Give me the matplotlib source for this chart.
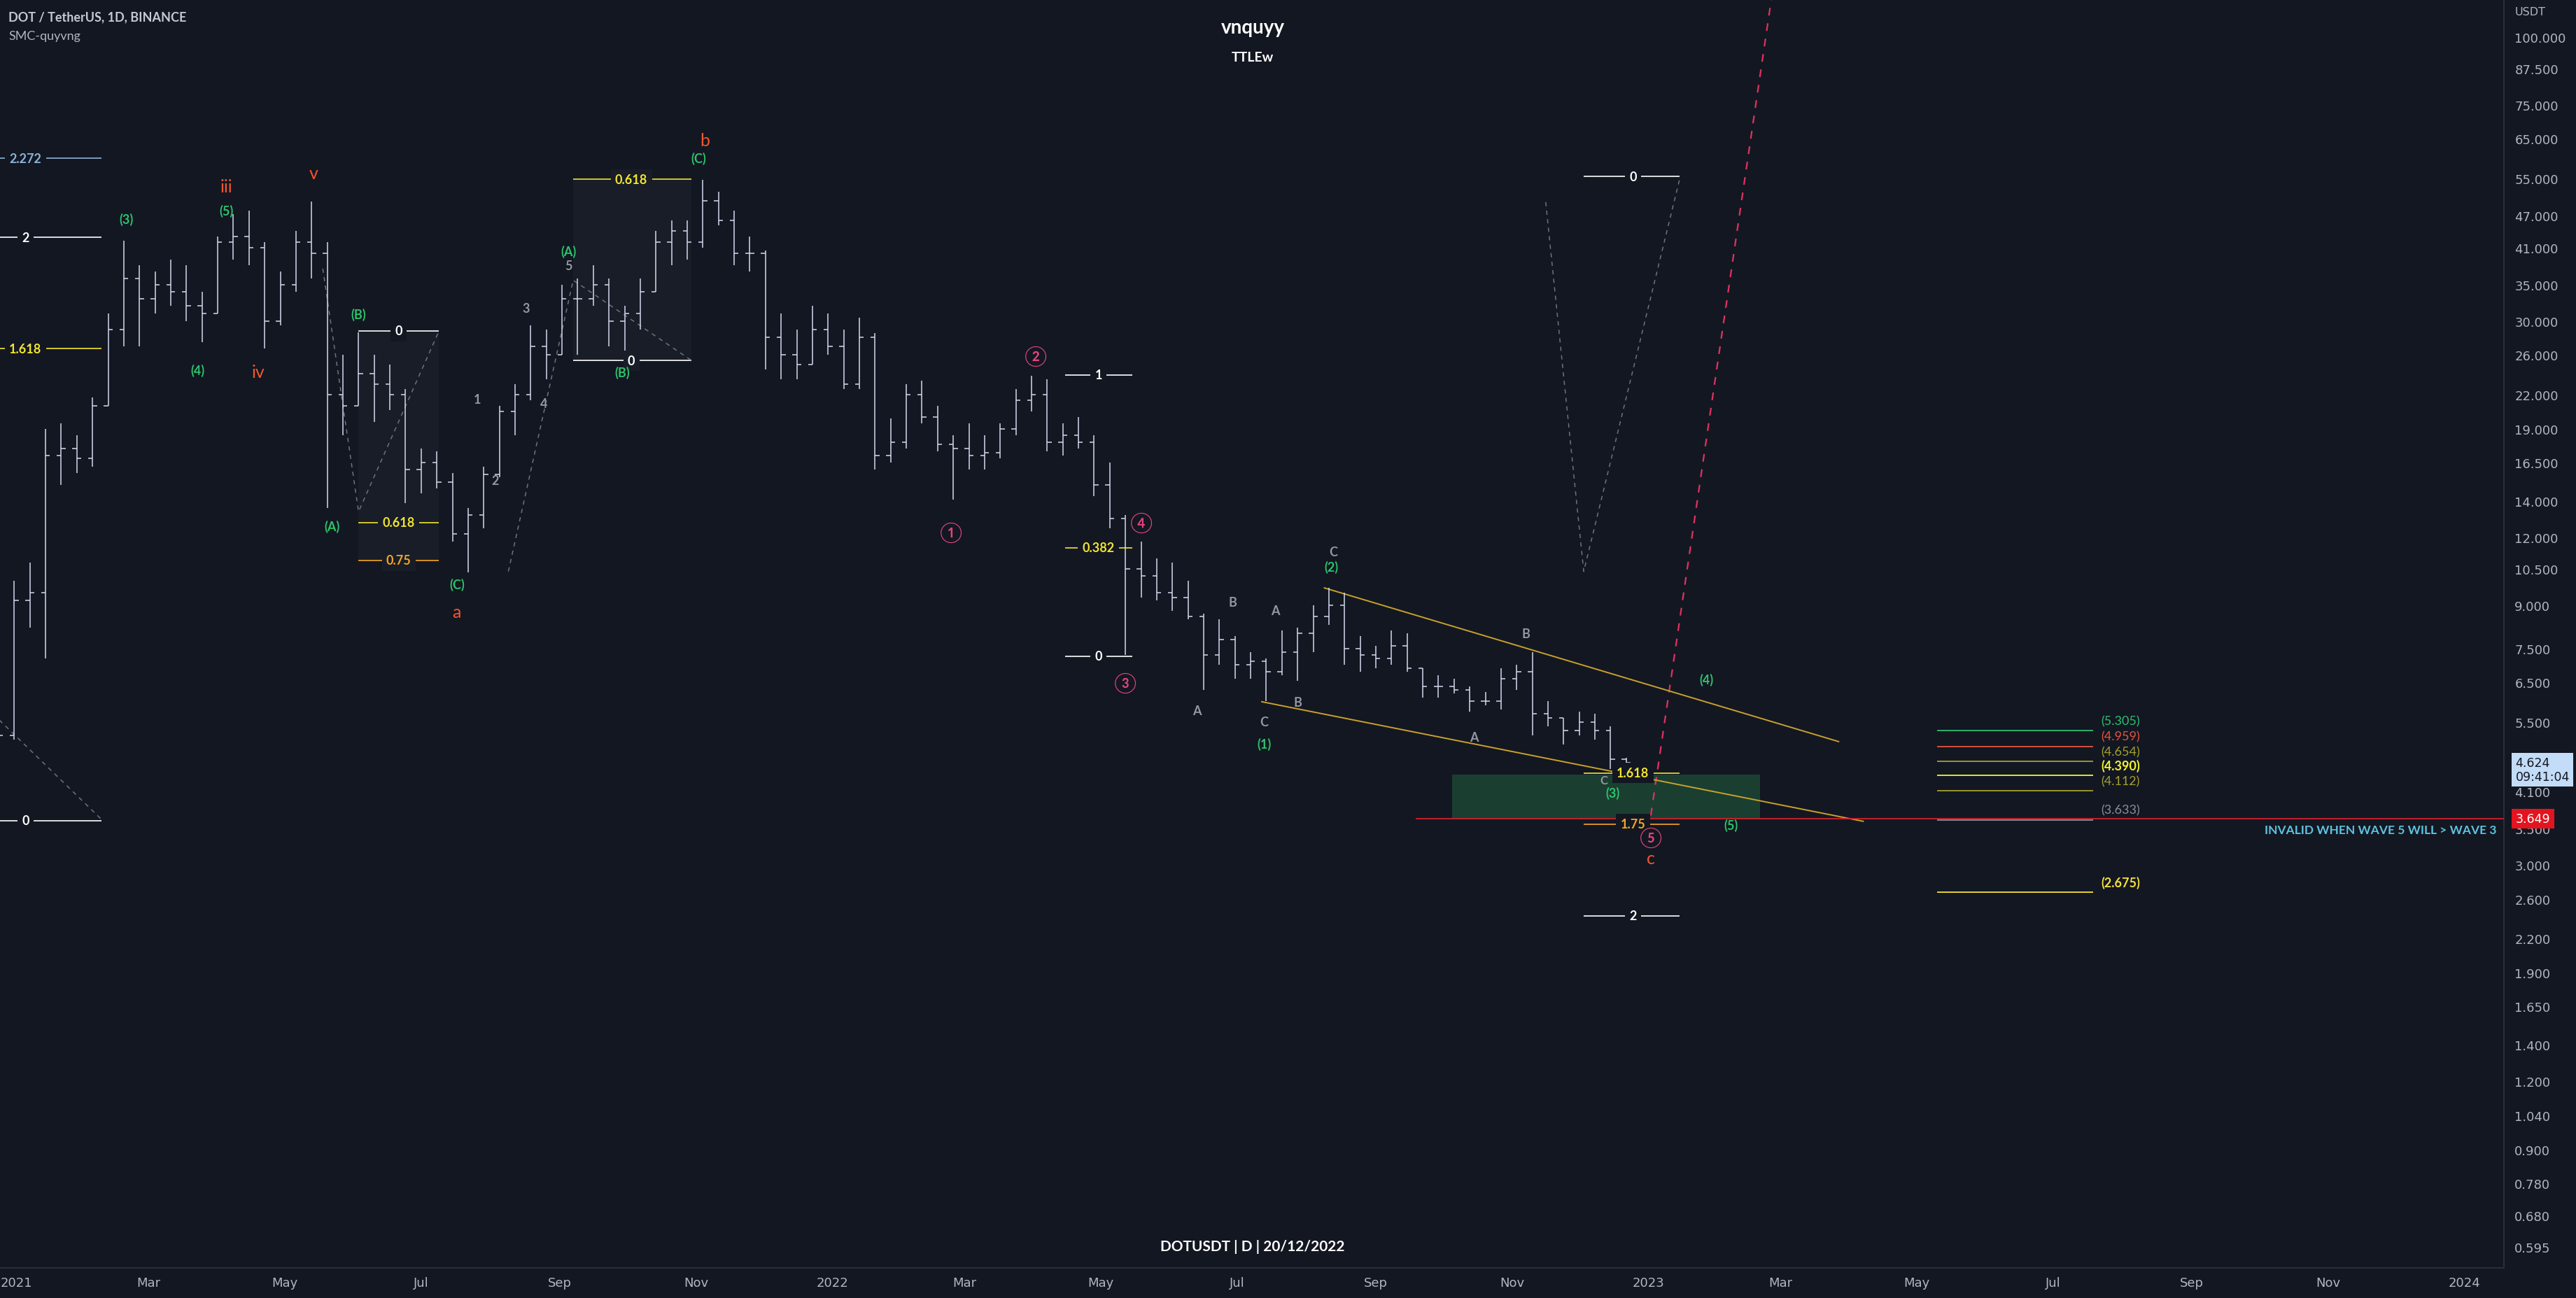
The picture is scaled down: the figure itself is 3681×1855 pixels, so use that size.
import pandas as pd
import matplotlib
matplotlib.use('Agg')
import matplotlib.pyplot as plt
import matplotlib.dates as mdates
import matplotlib.transforms as mtransforms
from matplotlib.patches import Rectangle
from matplotlib.ticker import FixedLocator, FuncFormatter, NullLocator

plt.rcParams['font.family'] = ['Lato', 'Noto Sans CJK JP', 'DejaVu Sans']

BG = '#131722'
BAR = '#d3daee'
GREEN = '#2cc46b'
RED = '#f0562e'
PINK = '#e0457b'
GREY = '#9598a1'
YELLOW = '#f2e52e'
ORANGE = '#f5a524'
WHITE = '#ffffff'
AXIS_TXT = '#b2b5be'

# weekly OHLC
week_start = pd.date_range('2020-12-21', periods=105, freq='7D')
opens = [4.8, 5.2, 9.2, 9.5, 17.0, 17.5, 16.8, 21.0, 29.0, 36.0,
         33, 35, 34, 32, 31, 42, 43, 41, 30, 35,
         42, 40, 22, 21, 24, 23, 22, 16, 16.5, 15.2,
         12.2, 13.2, 15.7, 20.5, 22, 27, 26, 33, 33, 35,
         30, 31, 34, 42, 44, 42, 50, 46, 40, 40,
         28, 26, 25, 29, 27, 23, 28, 17, 18, 22,
         20, 17.8, 17.5, 17, 17.2, 19, 21.5, 22, 18, 18.5,
         18, 15, 13, 10.5, 10.2, 9.5, 9.3, 8.6, 7.3, 7.8,
         7.0, 7.1, 6.8, 7.4, 8.0, 8.6, 9.0, 7.5, 7.3, 7.2,
         7.6, 6.9, 6.4, 6.4, 6.3, 6.0, 6.0, 6.6, 6.8, 5.7,
         5.6, 5.3, 5.5, 5.3, 4.7]
highs = [5.4, 10.0, 10.8, 19.0, 19.5, 18.5, 21.7, 31.0, 42.2, 38.0,
         37, 39, 38, 34, 43, 47.2, 48, 42, 37, 44,
         49.8, 42, 26, 28.6, 26, 25, 22.5, 17.5, 17.3, 15.8,
         13.6, 16.2, 21.0, 23, 29.5, 29, 35, 36, 38, 36,
         32, 36, 44, 46, 46, 54.6, 52, 48, 43, 40.5,
         31, 29, 32, 31, 29, 30.5, 28.5, 19.9, 23, 23.3,
         21, 18.5, 19.5, 18.5, 19.5, 22.5, 23.8, 23.5, 19.5, 20,
         18.5, 16.5, 13.2, 11.8, 11, 10.8, 10, 8.7, 8.5, 7.9,
         7.4, 7.2, 8.1, 8.2, 9.0, 9.7, 9.5, 7.9, 7.6, 8.1,
         8.0, 6.9, 6.7, 6.6, 6.4, 6.25, 6.9, 7.0, 7.4, 6.0,
         5.6, 5.75, 5.7, 5.4, 4.72]
lows = [4.6, 5.1, 8.2, 7.2, 15.0, 15.8, 16.2, 21.0, 27.0, 27.0,
        31, 32, 30, 27.5, 31, 39, 38, 26.7, 29.5, 34,
        36, 13.6, 18.5, 21, 19.6, 20.6, 13.9, 14.5, 14.8, 11.8,
        10.35, 12.5, 15.5, 18.5, 21.5, 23.5, 26, 26, 32, 27,
        26, 29, 34, 38, 39, 41, 45, 38, 37, 24.5,
        23.5, 23.5, 25, 26, 22.5, 22.5, 16, 16.5, 17.5, 19.5,
        17.3, 14.1, 16, 16, 16.8, 18.5, 20.5, 17.3, 17, 17.5,
        14.3, 12.5, 7.3, 9.3, 9.2, 8.8, 8.5, 6.3, 7.0, 6.6,
        6.6, 6.0, 6.7, 6.55, 7.4, 8.3, 7.0, 6.8, 6.9, 7.0,
        6.8, 6.1, 6.1, 6.2, 5.75, 5.9, 5.8, 6.3, 5.2, 5.4,
        5.0, 5.2, 5.1, 4.5, 4.58]
closes = [5.2, 9.2, 9.5, 17.0, 17.5, 16.8, 21.0, 29.0, 36.0, 33.0,
          35, 34, 32, 31, 42, 43, 41, 30, 35, 42,
          40, 22, 21, 24, 23, 22, 16, 16.5, 15.2, 12.2,
          13.2, 15.7, 20.5, 22, 27, 26, 33, 33, 35, 30,
          31, 34, 42, 44, 42, 50, 46, 40, 40, 28,
          26, 25, 29, 27, 23, 28, 17, 18, 22, 20,
          17.8, 17.5, 17, 17.2, 19, 21.5, 22, 18, 18.5, 18,
          15, 13, 10.5, 10.2, 9.5, 9.3, 8.6, 7.3, 7.8, 7.0,
          7.1, 6.8, 7.4, 8.0, 8.6, 9.0, 7.5, 7.3, 7.2, 7.6,
          6.9, 6.4, 6.4, 6.3, 6.0, 6.0, 6.6, 6.8, 5.7, 5.6,
          5.3, 5.5, 5.3, 4.7, 4.624]

last_price = 4.624
invalid_price = 3.649

# projected levels on the right
proj_prices = [5.305, 4.959, 4.654, 4.390, 4.112, 3.633, 2.675]
proj_colors = ['#2fbf71', '#e8533a', '#a4a12c', '#f5f52a', '#a4a12c', '#8a8d96', '#f5e03a']
proj_bold = [False, False, False, True, False, False, True]

# price axis ticks
y_ticks = [100, 87.5, 75, 65, 55, 47, 41, 35, 30, 26, 22, 19, 16.5, 14, 12, 10.5,
           9, 7.5, 6.5, 5.5, 4.1, 3.5, 3.0, 2.6, 2.2, 1.9, 1.65, 1.4, 1.2, 1.04,
           0.9, 0.78, 0.68, 0.595]


def d(s):
    return mdates.date2num(pd.Timestamp(s))


W, H = 3681, 1856
fig = plt.figure(figsize=(W / 100, H / 100), dpi=100, facecolor=BG)
ax = fig.add_axes([0, 43 / H, 3578 / W, 1813 / H])
ax.set_facecolor(BG)
ax.set_yscale('log')
ax.set_ylim(0.5447, 117.3)
ax.set_xlim(d('2020-12-24 15:00'), d('2024-01-18 14:00'))

# bars
x = mdates.date2num(week_start + pd.Timedelta(days=3))
ax.vlines(x, lows, highs, color=BAR, lw=1.1, zorder=5)
ax.hlines(opens, x - 2.0, x, color=BAR, lw=1.1, zorder=5)
ax.hlines(closes, x, x + 2.0, color=BAR, lw=1.1, zorder=5)

# shaded fib boxes
SHADE = '#181d27'
ax.add_patch(Rectangle((d('2021-06-03'), 10.9), d('2021-07-09') - d('2021-06-03'), 28.8 - 10.9,
                       fc=SHADE, ec='none', zorder=1))
ax.add_patch(Rectangle((d('2021-09-07'), 25.4), d('2021-10-30') - d('2021-09-07'), 54.7 - 25.4,
                       fc=SHADE, ec='none', zorder=1))
# demand zone
ax.add_patch(Rectangle((d('2022-10-05'), 3.65), d('2023-02-20') - d('2022-10-05'), 4.40 - 3.65,
                       fc='#1a3f31', ec='none', zorder=2))


def level(x0, x1, y, label, color, xl, fc=BG):
    ax.hlines(y, d(x0), d(x1), color=color, lw=1.2, zorder=3)
    ax.text(d(xl), y, label, color=color, ha='center', va='center', fontsize=13,
            fontweight='bold', zorder=6,
            bbox=dict(boxstyle='square,pad=0.35', fc=fc, ec='none'))


level('2020-12-10', '2021-02-08', 59.8, '2.272', '#8ab4d8', '2021-01-05')
level('2020-12-10', '2021-02-08', 42.8, '2', WHITE, '2021-01-05')
level('2020-12-10', '2021-02-08', 26.7, '1.618', YELLOW, '2021-01-05')
level('2020-12-10', '2021-02-08', 3.62, '0', WHITE, '2021-01-05')

level('2021-06-03', '2021-07-09', 28.8, '0', WHITE, '2021-06-21')
level('2021-06-03', '2021-07-09', 12.8, '0.618', YELLOW, '2021-06-21', SHADE)
level('2021-06-03', '2021-07-09', 10.9, '0.75', ORANGE, '2021-06-21', SHADE)

level('2021-09-07', '2021-10-30', 54.7, '0.618', YELLOW, '2021-10-03', SHADE)
level('2021-09-07', '2021-10-30', 25.4, '0', WHITE, '2021-10-03', SHADE)

level('2022-04-15', '2022-05-15', 23.9, '1', WHITE, '2022-04-30')
level('2022-04-15', '2022-05-15', 11.5, '0.382', YELLOW, '2022-04-30')
level('2022-04-15', '2022-05-15', 7.26, '0', WHITE, '2022-04-30')

level('2022-12-03', '2023-01-15', 55.4, '0', WHITE, '2022-12-25')
level('2022-12-03', '2023-01-15', 4.43, '1.618', YELLOW, '2022-12-25')
level('2022-12-03', '2023-01-15', 3.57, '1.75', ORANGE, '2022-12-25')
level('2022-12-03', '2023-01-15', 2.42, '2', WHITE, '2022-12-25')

# dashed swing paths
dash_kw = dict(color='#6f727c', lw=1.1, ls=(0, (4, 4)), zorder=3)
ax.plot([d('2020-12-24'), d('2021-02-08')], [5.56, 3.64], **dash_kw)
ax.plot([d('2021-05-18'), d('2021-06-03'), d('2021-07-09')], [37.5, 13.4, 28.8], **dash_kw)
ax.plot([d('2021-08-09'), d('2021-09-07'), d('2021-10-30')], [10.4, 35.7, 25.4], **dash_kw)
ax.plot([d('2022-11-16'), d('2022-12-03'), d('2023-01-15')], [49.7, 10.4, 55.0], **dash_kw)
ax.plot([d('2023-01-02'), d('2023-02-25')], [3.70, 118], color='#e0325f', lw=1.6,
        ls=(0, (5, 5)), zorder=3)

# wedge
ax.plot([d('2022-08-09'), d('2023-03-27')], [9.70, 5.06], color='#c9a22a', lw=1.4, zorder=4)
ax.plot([d('2022-07-12'), d('2023-04-07')], [5.99, 3.61], color='#c9a22a', lw=1.4, zorder=4)

# invalidation line
ax.hlines(invalid_price, d('2022-09-19'), ax.get_xlim()[1], color='#d0202e', lw=1.3, zorder=4)
ax.text(3568 / 3578, 3.48, 'INVALID WHEN WAVE 5 WILL > WAVE 3', color='#5cc3e0', fontsize=12.5,
        fontweight='bold', ha='right', va='center',
        transform=mtransforms.blended_transform_factory(ax.transAxes, ax.transData))

# projected levels
for p, c, b in zip(proj_prices, proj_colors, proj_bold):
    ax.hlines(p, d('2023-05-10'), d('2023-07-19'), color=c, lw=1.3, zorder=3)
    ax.annotate(f'({p:.3f})', xy=(d('2023-07-19'), p), xytext=(8, 10), textcoords='offset points',
                color=c, fontsize=13, fontweight='bold' if b else 'normal',
                ha='left', va='center')

# wave labels
waves = [
    ('(3)', '2021-02-19', 46.2, GREEN, 13), ('(5)', '2021-04-05', 47.9, GREEN, 13),
    ('iii', '2021-04-05', 53.1, RED, 18), ('v', '2021-05-14', 56.1, RED, 18),
    ('(4)', '2021-03-23', 24.4, GREEN, 13), ('iv', '2021-04-19', 24.2, RED, 18),
    ('(B)', '2021-06-03', 30.9, GREEN, 13), ('(A)', '2021-05-22', 12.6, GREEN, 13),
    ('(C)', '2021-07-17', 9.86, GREEN, 13), ('a', '2021-07-17', 8.76, RED, 18),
    ('1', '2021-07-26', 21.6, GREY, 13), ('2', '2021-08-03', 15.3, GREY, 13),
    ('3', '2021-08-17', 31.7, GREY, 13), ('4', '2021-08-25', 21.2, GREY, 13),
    ('5', '2021-09-05', 38.0, GREY, 13), ('(A)', '2021-09-05', 40.4, GREEN, 13),
    ('(B)', '2021-09-29', 24.2, GREEN, 13), ('(C)', '2021-11-02', 59.8, GREEN, 13),
    ('b', '2021-11-05', 64.5, RED, 18),
    ('②', '2022-04-02', 25.9, PINK, 21), ('①', '2022-02-23', 12.3, PINK, 21),
    ('④', '2022-05-19', 12.8, PINK, 21), ('③', '2022-05-12', 6.50, PINK, 21),
    ('A', '2022-06-13', 5.77, GREY, 13), ('B', '2022-06-29', 9.14, GREY, 13),
    ('A', '2022-07-18', 8.82, GREY, 13), ('C', '2022-07-13', 5.50, GREY, 13),
    ('B', '2022-07-28', 5.98, GREY, 13), ('(1)', '2022-07-13', 5.02, GREEN, 13),
    ('C', '2022-08-13', 11.3, GREY, 13), ('(2)', '2022-08-12', 10.6, GREEN, 13),
    ('A', '2022-10-15', 5.16, GREY, 13), ('B', '2022-11-07', 8.0, GREY, 13),
    ('C', '2022-12-12', 4.30, GREY, 12), ('(3)', '2022-12-16', 4.08, GREEN, 13),
    ('⑤', '2023-01-02', 3.38, PINK, 21), ('c', '2023-01-02', 3.09, RED, 18),
    ('(4)', '2023-01-27', 6.59, GREEN, 13), ('(5)', '2023-02-07', 3.55, GREEN, 13),
]
for t, dt, p, c, s in waves:
    ax.text(d(dt), p, t, color=c, fontsize=s, ha='center', va='center',
            fontweight='normal' if c in (RED, PINK) else 'bold', zorder=7)

# axes styling
for side in ['top', 'left']:
    ax.spines[side].set_visible(False)
for side in ['right', 'bottom']:
    ax.spines[side].set_color('#2a2e39')
    ax.spines[side].set_linewidth(1.5)

ax.yaxis.tick_right()
ax.yaxis.set_major_locator(FixedLocator(y_ticks))
ax.yaxis.set_major_formatter(FuncFormatter(lambda v, pos: f'{v:.3f}'))
ax.yaxis.set_minor_locator(NullLocator())
ax.tick_params(axis='y', which='both', length=0, pad=11, labelsize=13, labelcolor=AXIS_TXT)
for lab in ax.get_yticklabels():
    lab.set_fontfamily('DejaVu Sans')

x_tick_dates = pd.date_range('2021-01-01', '2024-01-01', freq='2MS')
x_tick_labels = [str(t.year) if t.month == 1 else t.strftime('%b') for t in x_tick_dates]
ax.set_xticks(mdates.date2num(x_tick_dates))
ax.set_xticklabels(x_tick_labels, fontfamily='DejaVu Sans')
ax.tick_params(axis='x', length=0, pad=9, labelsize=13, labelcolor=AXIS_TXT)

# price boxes on axis
blend = mtransforms.blended_transform_factory(ax.transAxes, ax.transData)
ax.annotate(f'{last_price:.3f}\n09:41:04', xy=(1.0, last_price), xycoords=blend,
            xytext=(12, -7), textcoords='offset points', ha='left', va='center',
            fontsize=12.5, color=BG, fontfamily='DejaVu Sans', linespacing=1.1,
            bbox=dict(boxstyle='square,pad=0.3', fc='#c3dcf7', ec='none'),
            annotation_clip=False, zorder=10)
ax.annotate(f'{invalid_price:.3f}', xy=(1.0, invalid_price), xycoords=blend,
            xytext=(12, 0), textcoords='offset points', ha='left', va='center',
            fontsize=12.5, color=WHITE, fontfamily='DejaVu Sans',
            bbox=dict(boxstyle='square,pad=0.3', fc='#e3141f', ec='none'),
            annotation_clip=False, zorder=10)

# header / footer texts
fig.text(12 / W, 1 - 25 / H, 'DOT / TetherUS, 1D, BINANCE', color='#c6c9d1', fontsize=13,
         fontweight='bold', ha='left', va='center')
fig.text(12 / W, 1 - 52 / H, 'SMC-quyvng', color=AXIS_TXT, fontsize=13, ha='left', va='center')
fig.text(1790 / W, 1 - 40 / H, 'vnquyy', color=WHITE, fontsize=20, fontweight='bold',
         ha='center', va='center')
fig.text(1790 / W, 1 - 82 / H, 'TTLEw', color=WHITE, fontsize=14, fontweight='bold',
         ha='center', va='center')
fig.text(1790 / W, 1 - 1782 / H, 'DOTUSDT | D | 20/12/2022', color=WHITE, fontsize=15,
         fontweight='bold', ha='center', va='center')
fig.text(3594 / W, 1 - 18 / H, 'USDT', color=AXIS_TXT, fontsize=11.5, ha='left', va='center',
         fontfamily='DejaVu Sans')

fig.savefig('out.png', dpi=100, facecolor=BG)
